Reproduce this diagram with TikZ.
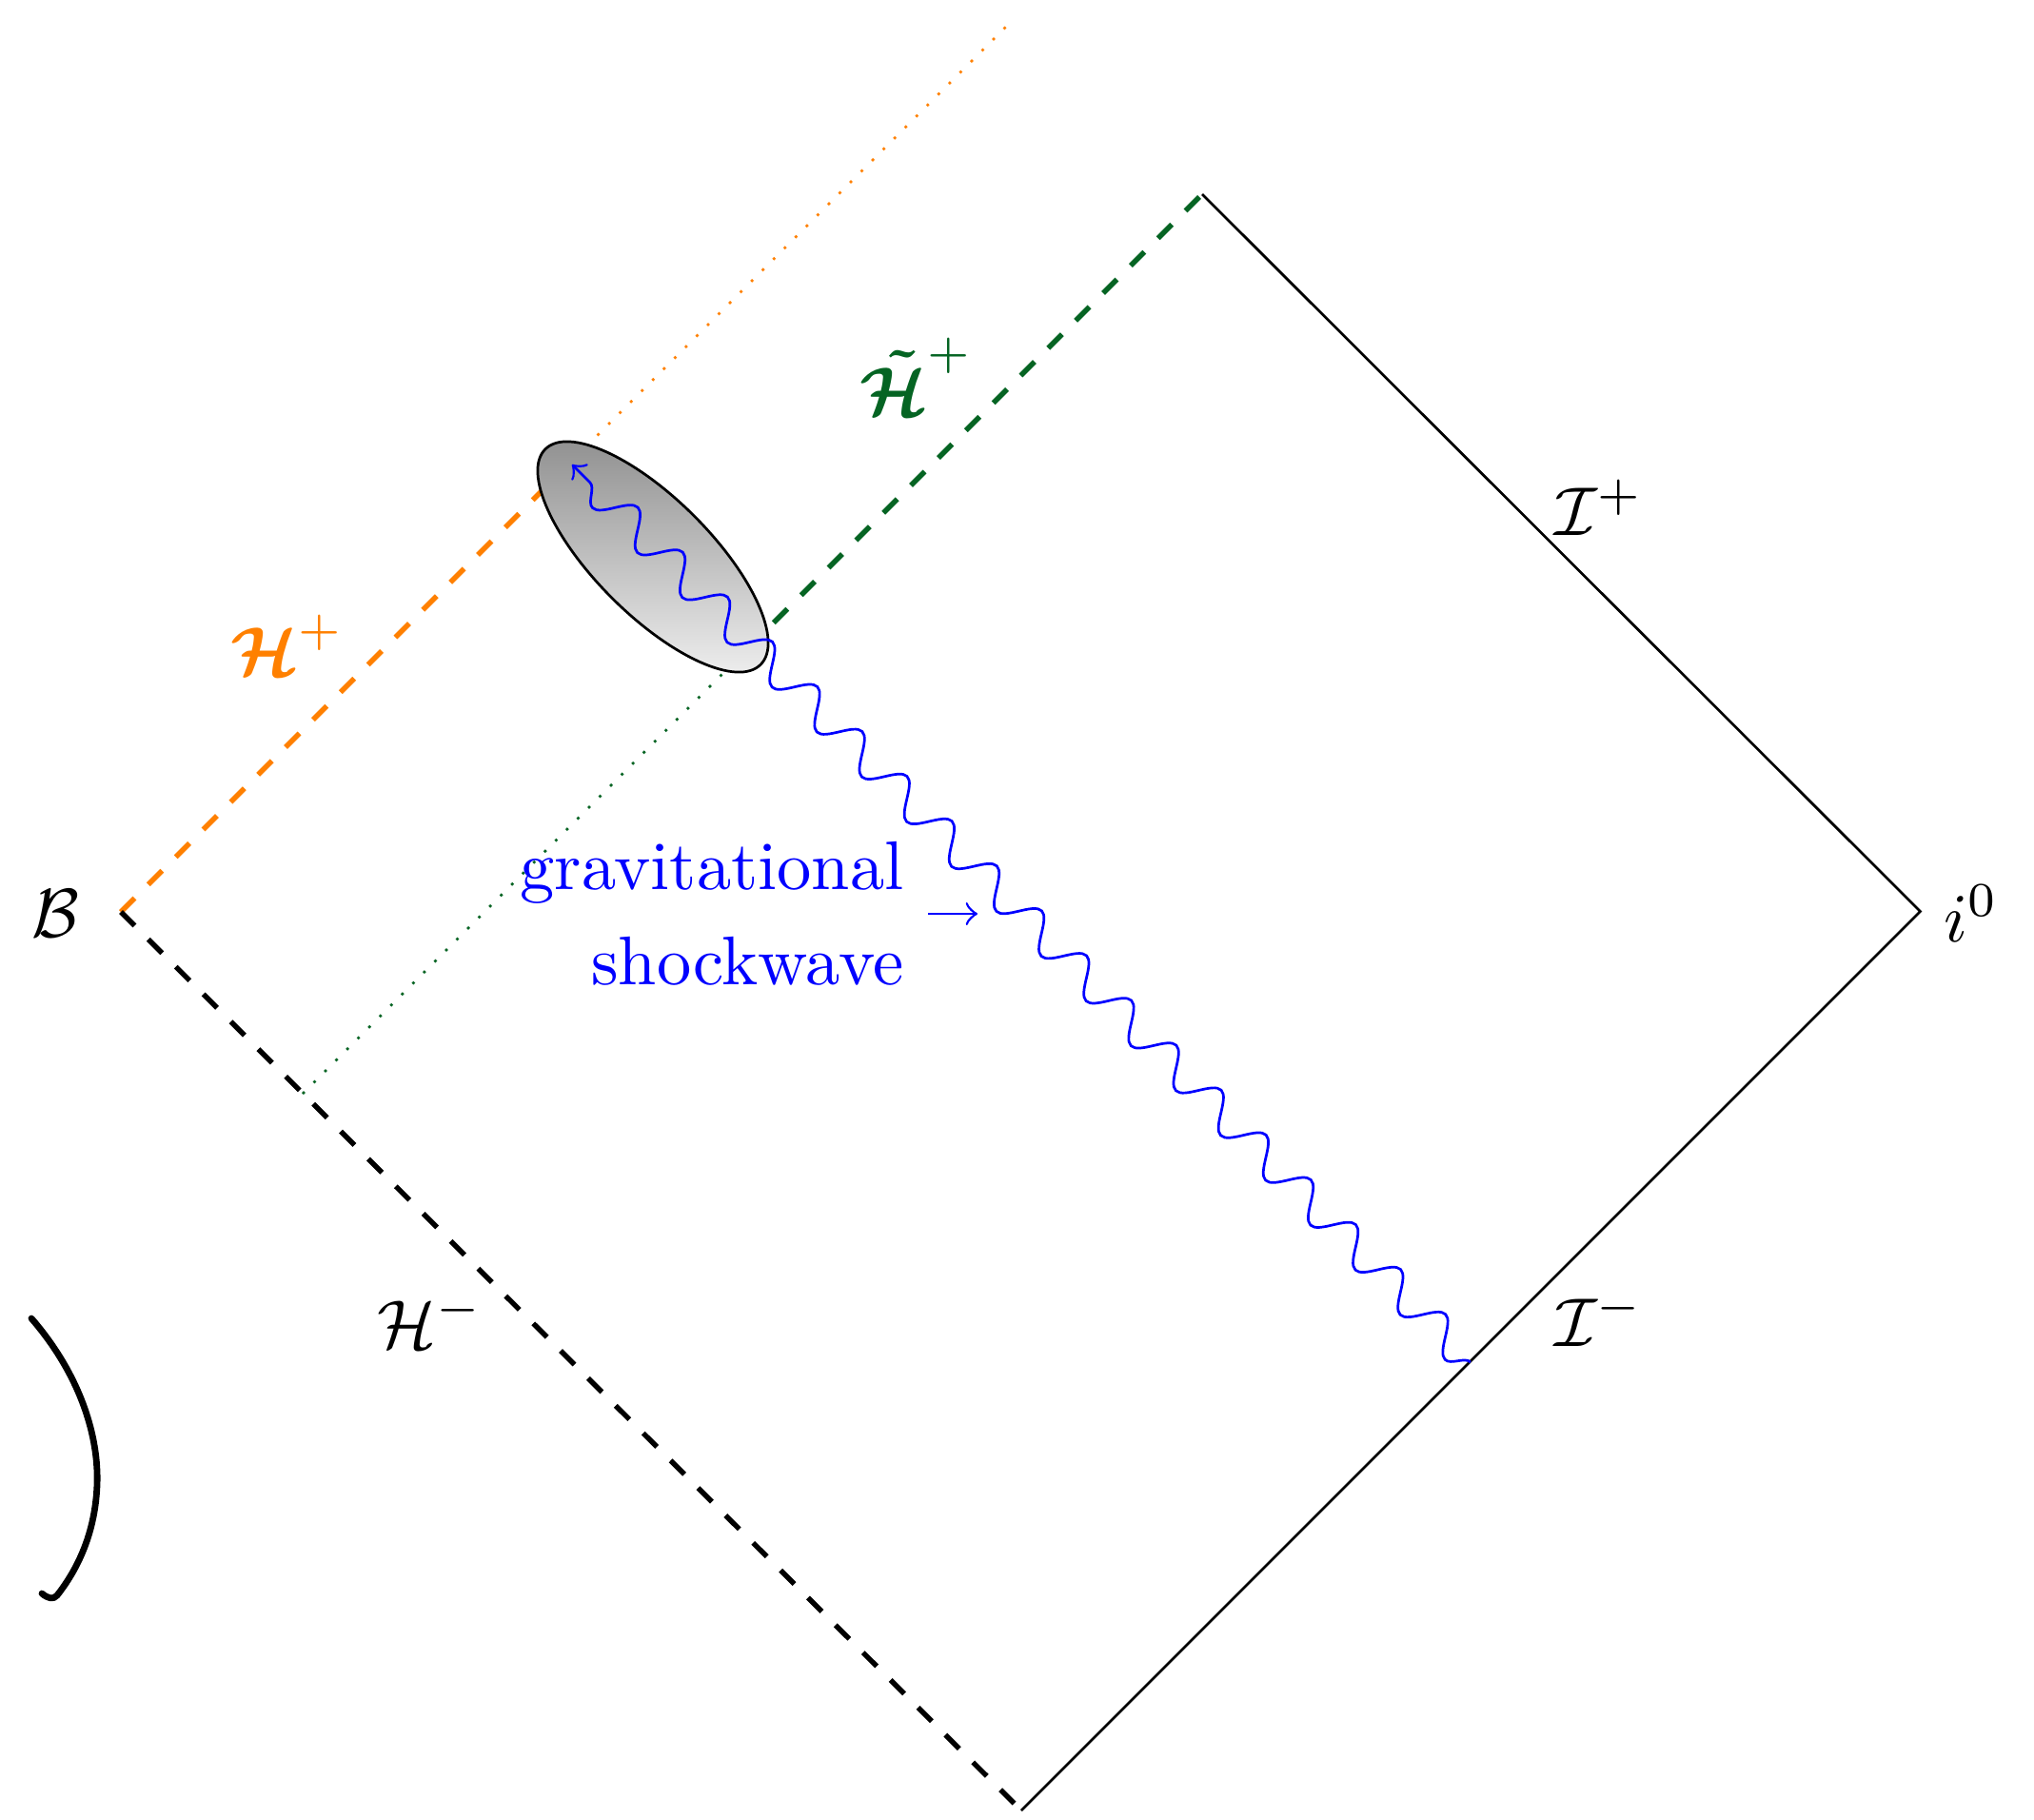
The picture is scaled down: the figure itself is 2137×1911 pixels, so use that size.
\documentclass[tikz,border=0pt]{standalone}
\usepackage{amsmath,amssymb}
\usetikzlibrary{decorations.pathmorphing,shapes.geometric}
\definecolor{hgreen}{RGB}{5,100,35}
\definecolor{horange}{RGB}{255,128,0}
\begin{document}
\begin{tikzpicture}[x=0.147059pt,y=-0.147059pt,
  hdash/.style={thick,dashed},
  hdot/.style={dotted},
  lbl/.style={inner sep=0pt,anchor=base,scale=1.065},
  wave/.style={blue,decorate,decoration={snake,amplitude=2.5pt,segment length=9.8pt}}]
\useasboundingbox (0,0) rectangle (2137,1911);
\coordinate (B) at (127,958);
\coordinate (Bot) at (1073,1902);
\coordinate (I0) at (2017.5,957.5);
\coordinate (Top) at (1263,204);
\coordinate (OTop) at (1066,19);
\coordinate (OMid) at (593,492);
\coordinate (GMid) at (784,683);
\coordinate (GBot) at (318,1149);
\coordinate (Wstart) at (1545,1431);
\coordinate (Wend) at (601,488);
\coordinate (ArrEnd) at (1027,960);

\draw[horange,hdot] (OMid) -- (OTop);
\draw[horange,hdash] (B) -- (OMid);
\draw[hgreen,hdot] (GBot) -- (GMid);
\draw[hgreen,hdash] (GMid) -- (Top);
\draw[hdash] (B) -- (Bot);
\draw (Bot) -- (I0) -- (Top);

\node[ellipse,draw,rotate=-45,minimum width=47.06pt,minimum height=17.94pt,inner sep=0pt,
      top color=gray!90,bottom color=gray!10] (blob) at (686,585) {};

\draw[wave,->] (Wstart) -- (Wend);

\node[lbl] (Blbl) at (58.5,984) {$\mathcal{B}$};
\node[lbl] (i0lbl) at (2071,989) {$i^0$};
\node[lbl] (Iplbl) at (1680,562) {$\mathcal{I}^+$};
\node[lbl] (Imlbl) at (1680,1414) {$\mathcal{I}^-$};
\node[lbl] (Hmlbl) at (452,1416) {$\mathcal{H}^-$};
\node[lbl,text=horange] (Hplbl) at (302,709) {$\boldsymbol{\mathcal{H}}^+$};
\node[lbl,text=hgreen] (Htlbl) at (963,436) {$\boldsymbol{\tilde{\mathcal{H}}}^+$};

\node[blue,align=right,anchor=east,scale=1.065] (shock) at (975,960) {gravitational\\[1.8pt]shockwave};
\draw[blue,->] (shock.east) -- (ArrEnd);

\draw[line width=1pt,line cap=round,line join=round] (33,1385) .. controls (85,1445) and (104,1510) .. (102,1560) .. controls (100,1610) and (82,1648) .. (60,1676) .. controls (56,1681) and (50,1679) .. (44,1674);
\end{tikzpicture}
\end{document}
